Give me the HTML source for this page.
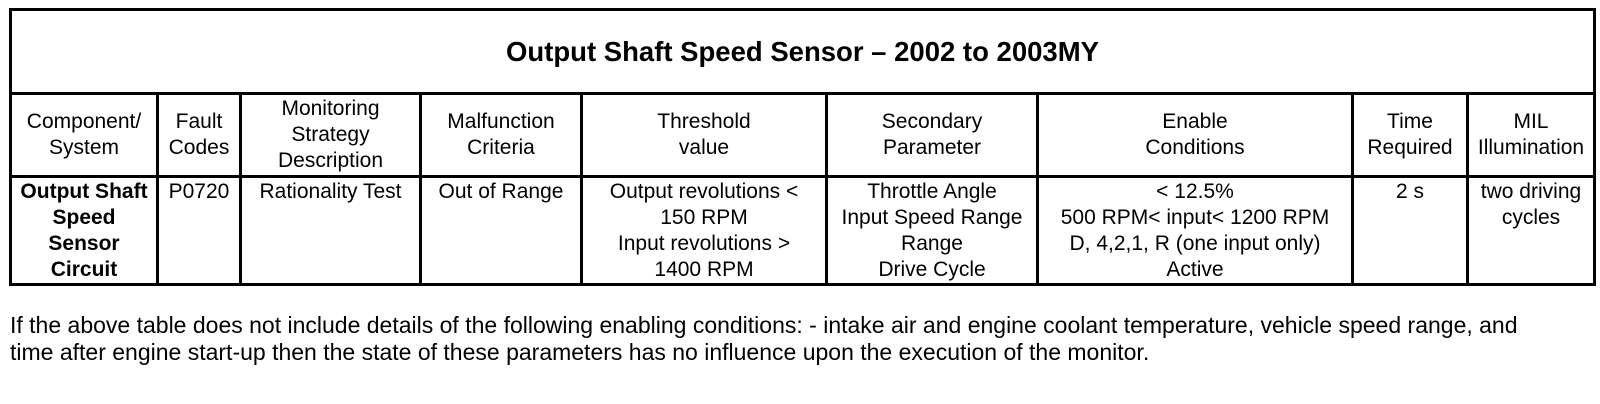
<!DOCTYPE html>
<html><head><meta charset="utf-8"><style>
body{margin:0;background:#fff;width:1600px;height:404px;position:relative;overflow:hidden;font-family:"Liberation Sans",Arial,sans-serif;color:#000}
.l{position:absolute;background:#000}
.c{position:absolute;text-align:center;font-size:21px;line-height:26px;display:flex;flex-direction:column;justify-content:center;align-items:center}
.d{position:absolute;text-align:center;font-size:21px;line-height:26px;top:179px}
</style></head><body>
<div class="l" style="left:9px;top:8px;width:1587px;height:3px"></div>
<div class="l" style="left:9px;top:92px;width:1587px;height:3px"></div>
<div class="l" style="left:9px;top:175px;width:1587px;height:3px"></div>
<div class="l" style="left:9px;top:283px;width:1587px;height:3px"></div>
<div class="l" style="left:9px;top:8px;width:3px;height:278px"></div>
<div class="l" style="left:1593px;top:8px;width:3px;height:278px"></div>
<div class="l" style="left:156px;top:92px;width:3px;height:194px"></div>
<div class="l" style="left:239px;top:92px;width:3px;height:194px"></div>
<div class="l" style="left:419px;top:92px;width:3px;height:194px"></div>
<div class="l" style="left:580px;top:92px;width:3px;height:194px"></div>
<div class="l" style="left:825px;top:92px;width:3px;height:194px"></div>
<div class="l" style="left:1036px;top:92px;width:3px;height:194px"></div>
<div class="l" style="left:1351px;top:92px;width:3px;height:194px"></div>
<div class="l" style="left:1466px;top:92px;width:3px;height:194px"></div>

<div class="c" style="left:12px;top:11px;width:1581px;height:81px;font-size:27.5px;font-weight:bold">Output Shaft Speed Sensor – 2002 to 2003MY</div>

<div class="c" style="left:12px;top:95px;width:144px;height:80px">Component/<br>System</div>
<div class="c" style="left:159px;top:95px;width:80px;height:80px">Fault<br>Codes</div>
<div class="c" style="left:242px;top:95px;width:177px;height:80px">Monitoring<br>Strategy<br>Description</div>
<div class="c" style="left:422px;top:95px;width:158px;height:80px">Malfunction<br>Criteria</div>
<div class="c" style="left:583px;top:95px;width:242px;height:80px">Threshold<br>value</div>
<div class="c" style="left:828px;top:95px;width:208px;height:80px">Secondary<br>Parameter</div>
<div class="c" style="left:1039px;top:95px;width:312px;height:80px">Enable<br>Conditions</div>
<div class="c" style="left:1354px;top:95px;width:112px;height:80px">Time<br>Required</div>
<div class="c" style="left:1469px;top:95px;width:124px;height:80px">MIL<br>Illumination</div>

<div class="d" style="left:12px;width:144px;font-weight:bold">Output Shaft<br>Speed<br>Sensor<br>Circuit</div>
<div class="d" style="left:159px;width:80px">P0720</div>
<div class="d" style="left:242px;width:177px">Rationality Test</div>
<div class="d" style="left:422px;width:158px">Out of Range</div>
<div class="d" style="left:583px;width:242px">Output revolutions &lt;<br>150 RPM<br>Input revolutions &gt;<br>1400 RPM</div>
<div class="d" style="left:828px;width:208px">Throttle Angle<br>Input Speed Range<br>Range<br>Drive Cycle</div>
<div class="d" style="left:1039px;width:312px">&lt; 12.5%<br>500 RPM&lt; input&lt; 1200 RPM<br>D, 4,2,1, R (one input only)<br>Active</div>
<div class="d" style="left:1354px;width:112px">2 s</div>
<div class="d" style="left:1469px;width:124px">two driving<br>cycles</div>

<div style="position:absolute;left:10px;top:312px;font-size:23px;line-height:27px;white-space:nowrap">If the above table does not include details of the following enabling conditions: - intake air and engine coolant temperature, vehicle speed range, and<br>time after engine start-up then the state of these parameters has no influence upon the execution of the monitor.</div>
</body></html>
